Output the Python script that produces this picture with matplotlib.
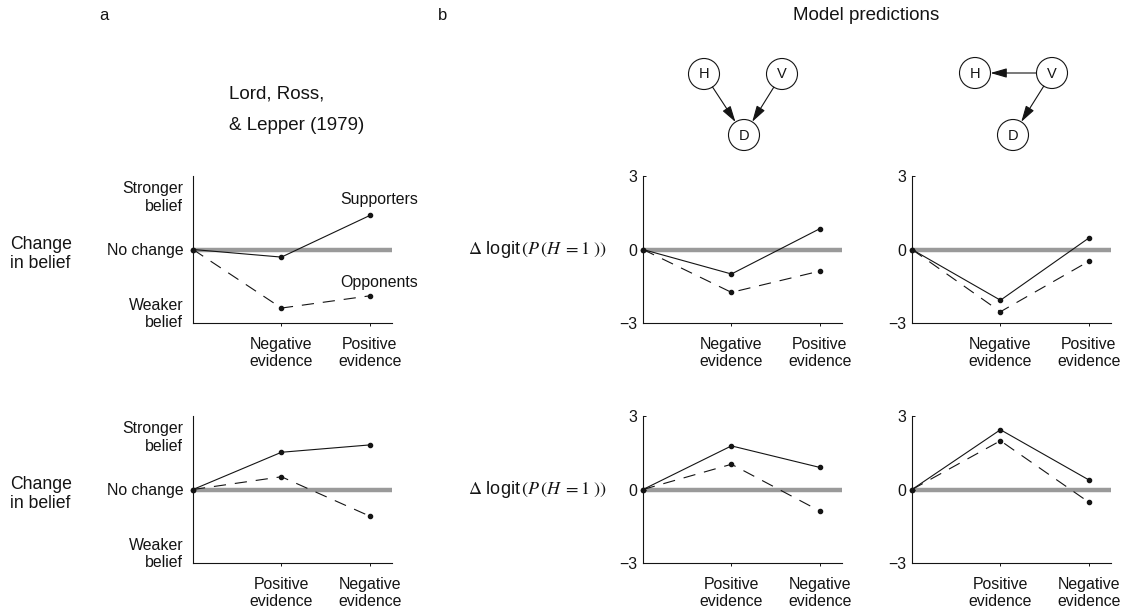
import matplotlib
matplotlib.use('Agg')
import matplotlib.pyplot as plt
from matplotlib.patches import Circle
import numpy as np

plt.rcParams['font.family'] = ['Liberation Sans', 'DejaVu Sans']
plt.rcParams['mathtext.fontset'] = 'stix'

# ---------------- data ----------------
x_pos = [0, 1, 2]
tick_pos = [1, 2]
labels_neg_pos = ['Negative\nevidence', 'Positive\nevidence']
labels_pos_neg = ['Positive\nevidence', 'Negative\nevidence']

belief_ticks = [2.23, 0, -2.53]
belief_labels = ['Stronger\nbelief', 'No change', 'Weaker\nbelief']
model_ticks = [3, 0, -3]
model_labels = ['3', '0', '\u22123']

# Lord, Ross & Lepper (1979)
supporters_top = [0, -0.31, 1.39]
opponents_top = [0, -2.39, -1.89]
supporters_bot = [0, 1.52, 1.82]
opponents_bot = [0, 0.52, -1.09]

# Model 1 (H -> D <- V)
m1_top_solid = [0, -1.00, 0.85]
m1_top_dash = [0, -1.75, -0.88]
m1_bot_solid = [0, 1.78, 0.90]
m1_bot_dash = [0, 1.03, -0.88]

# Model 2 (H <- V -> D)
m2_top_solid = [0, -2.07, 0.47]
m2_top_dash = [0, -2.54, -0.48]
m2_bot_solid = [0, 2.44, 0.39]
m2_bot_dash = [0, 1.99, -0.52]

# ---------------- figure ----------------
W, H = 1125, 615
fig = plt.figure(figsize=(W / 100, H / 100), dpi=100)

INK = '#141414'
GRAY = '#9a9a9a'
DASH = (0, (11, 8))
TICK_FS = 11.4


def px_axes(left, top, w, h):
    return fig.add_axes([left / W, 1 - (top + h) / H, w / W, h / H])


def style_axes(ax, xlabels, model=True):
    ax.set_xlim(0, 2.25)
    ax.set_ylim(-3, 3)
    for s in ['top', 'right']:
        ax.spines[s].set_visible(False)
    for s in ['left', 'bottom']:
        ax.spines[s].set_linewidth(0.8)
        ax.spines[s].set_color(INK)
    ax.axhline(0, color=GRAY, lw=3.2, zorder=1)
    ax.set_xticks(tick_pos, xlabels)
    ax.tick_params(axis='x', direction='out', length=2.5, width=0.7,
                   pad=7.5, labelsize=TICK_FS, colors=INK)
    if model:
        ax.set_yticks(model_ticks, model_labels)
        ax.tick_params(axis='y', direction='in', length=2.5, width=0.7,
                       pad=4, labelsize=TICK_FS, colors=INK)
    else:
        ax.set_yticks(belief_ticks, belief_labels)
        ax.tick_params(axis='y', length=0, pad=7, labelsize=TICK_FS, colors=INK)
    ax.patch.set_alpha(0)


def draw_pair(ax, solid, dashed):
    ax.plot(x_pos, solid, linestyle='-', color=INK, lw=0.8, marker='o',
            ms=3, clip_on=False, zorder=3)
    ax.plot(x_pos, dashed, linestyle=DASH, color=INK, lw=0.8, marker='o',
            ms=3, clip_on=False, zorder=3)


lefts = [193, 643, 912]
tops = [176, 416]
AW, AH = 199, 147

# Row 1
ax = px_axes(lefts[0], tops[0], AW, AH)
style_axes(ax, labels_neg_pos, model=False)
draw_pair(ax, supporters_top, opponents_top)
ax.text(1.66, 2.04, 'Supporters', ha='left', va='center', fontsize=TICK_FS, color=INK)
ax.text(1.66, -1.33, 'Opponents', ha='left', va='center', fontsize=TICK_FS, color=INK)

ax = px_axes(lefts[1], tops[0], AW, AH)
style_axes(ax, labels_neg_pos)
draw_pair(ax, m1_top_solid, m1_top_dash)

ax = px_axes(lefts[2], tops[0], AW, AH)
style_axes(ax, labels_neg_pos)
draw_pair(ax, m2_top_solid, m2_top_dash)

# Row 2
ax = px_axes(lefts[0], tops[1], AW, AH)
style_axes(ax, labels_pos_neg, model=False)
draw_pair(ax, supporters_bot, opponents_bot)

ax = px_axes(lefts[1], tops[1], AW, AH)
style_axes(ax, labels_pos_neg)
draw_pair(ax, m1_bot_solid, m1_bot_dash)

ax = px_axes(lefts[2], tops[1], AW, AH)
style_axes(ax, labels_pos_neg)
draw_pair(ax, m2_bot_solid, m2_bot_dash)

# Row labels
for yc in [250, 490]:
    fig.text(10 / W, 1 - (yc + 4) / H, 'Change\nin belief', ha='left', va='center',
             fontsize=12.7, color=INK)
    fig.text(606 / W, 1 - yc / H, r'$\Delta$ logit$\,(P\,(H\;=1\;))$',
             ha='right', va='center', fontsize=13, color=INK)

# Headers
fig.text(104 / W, 1 - 16 / H, 'a', ha='center', va='center', fontsize=12, color=INK)
fig.text(443 / W, 1 - 16 / H, 'b', ha='center', va='center', fontsize=12, color=INK)
fig.text(866 / W, 1 - 16 / H, 'Model predictions', ha='center', va='center',
         fontsize=13.5, color=INK)
fig.text(229 / W, 1 - 94 / H, 'Lord, Ross,', ha='left', va='center',
         fontsize=13.5, color=INK)
fig.text(229 / W, 1 - 126 / H, '& Lepper (1979)', ha='left', va='center',
         fontsize=13.5, color=INK)

# Graph diagrams (pixel-coordinate overlay)
gax = fig.add_axes([0, 0, 1, 1])
gax.set_xlim(0, W)
gax.set_ylim(H, 0)
gax.axis('off')
gax.patch.set_alpha(0)

R = 15.5
graph1 = {'H': (704, 74), 'V': (782, 74), 'D': (744, 135)}
edges1 = [('H', 'D'), ('V', 'D')]
graph2 = {'H': (975, 73), 'V': (1052, 73), 'D': (1013, 135)}
edges2 = [('V', 'H'), ('V', 'D')]

for nodes, edges in [(graph1, edges1), (graph2, edges2)]:
    for name, (cx, cy) in nodes.items():
        gax.add_patch(Circle((cx, cy), R, facecolor='white', edgecolor=INK, lw=0.8))
        gax.text(cx, cy + 0.5, name, ha='center', va='center', fontsize=10.5, color=INK)
    for a, b in edges:
        p1 = np.array(nodes[a], float)
        p2 = np.array(nodes[b], float)
        u = (p2 - p1) / np.linalg.norm(p2 - p1)
        s = p1 + R * u
        e = p2 - R * u
        gax.annotate('', xy=tuple(e), xytext=tuple(s),
                     arrowprops=dict(arrowstyle='-|>,head_length=0.55,head_width=0.16',
                                     mutation_scale=18, lw=0.8, color=INK,
                                     shrinkA=0, shrinkB=0))

fig.savefig('out.png', dpi=100)
